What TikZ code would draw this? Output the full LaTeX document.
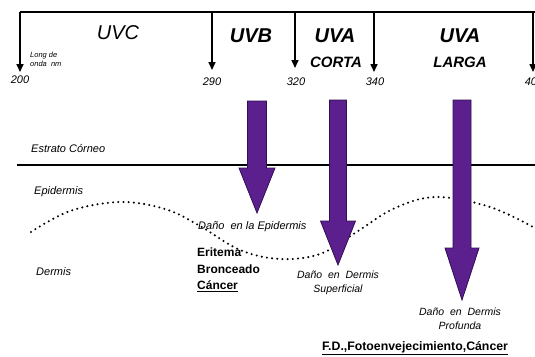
\documentclass[tikz,border=0pt]{standalone}
\usepackage{fontspec}
\setmainfont{Liberation Sans}
\usetikzlibrary{arrows.meta}
\definecolor{uvpurple}{RGB}{92,32,142}
\definecolor{uvedge}{RGB}{48,14,80}
\begin{document}
\begin{tikzpicture}[x=1pt,y=-1pt,
  axisline/.style={line width=1.8pt},
  tickarrow/.style={line width=1.6pt,-{Triangle[width=7pt,length=8pt]}},
  uvlab/.style={font=\fontsize{20}{24}\selectfont\itshape, inner sep=0pt},
  uvbold/.style={font=\fontsize{20}{24}\selectfont\bfseries\itshape, inner sep=0pt},
  uvsub/.style={font=\fontsize{15}{18}\selectfont\bfseries\itshape, inner sep=0pt},
  numlab/.style={font=\fontsize{11}{13}\selectfont\itshape, inner sep=0pt},
  layerlab/.style={font=\fontsize{11}{13}\selectfont\itshape, inner sep=0pt, anchor=west},
  damlab/.style={font=\fontsize{10.5}{14}\selectfont\itshape, inner sep=0pt, align=center},
  effectlab/.style={font=\fontsize{12}{16.5}\selectfont\bfseries, inner sep=0pt},
  skinline/.style={line width=1.6pt},
  dotline/.style={line width=2.3pt, dash pattern=on 0pt off 5.2pt, line cap=round},
  parrow/.style={fill=uvpurple, draw=uvedge, line width=0.8pt, line join=miter}
]
\useasboundingbox (0,0) rectangle (535,356);

% top scale
\coordinate (tR) at (536,12);
\coordinate (t200) at (20,12);   \coordinate (b200) at (20,72);
\coordinate (t290) at (212,12);  \coordinate (b290) at (212,70);
\coordinate (t320) at (295,12);  \coordinate (b320) at (295,68);
\coordinate (t340) at (374,12);  \coordinate (b340) at (374,72);
\coordinate (t400) at (533,12);  \coordinate (b400) at (533,72);
\draw[axisline] (t200) -- (tR);
\draw[tickarrow] (t200) -- (b200);
\draw[tickarrow] (t290) -- (b290);
\draw[tickarrow] (t320) -- (b320);
\draw[tickarrow] (t340) -- (b340);
\draw[tickarrow] (t400) -- (b400);

\node[numlab] (n200) at (20,80) {200};
\node[numlab] (n290) at (212,82) {290};
\node[numlab] (n320) at (296,82) {320};
\node[numlab] (n340) at (375,82) {340};
\node[numlab] (n400) at (534,82) {400};

\node[font=\fontsize{7.5}{9}\selectfont\itshape, inner sep=0pt, anchor=north west, align=left] (lo) at (30,52) {Long de\\onda\ \ nm};

\node[uvlab] (uvc) at (118,33) {UVC};
\node[uvbold] (uvb) at (251,36) {UVB};
\node[uvbold] (uva1) at (335,36) {UVA};
\node[uvsub] (corta) at (336,62) {CORTA};
\node[uvbold] (uva2) at (460,36) {UVA};
\node[uvsub] (larga) at (460,62) {LARGA};

% skin layers
\coordinate (sL) at (17,165);
\coordinate (sR) at (536,165);
\draw[skinline] (sL) -- (sR);
\draw[dotline] plot[smooth, tension=0.6] coordinates {(31,232) (70,211) (120,202) (165,209) (200,226) (240,250) (280,259) (320,254) (355,233) (395,208) (437,197) (490,207) (533,227)};

\node[layerlab] (ec) at (31,149) {Estrato\ Córneo};
\node[layerlab] (ep) at (34,192) {Epidermis};
\node[layerlab] (de) at (36,272) {Dermis};

% purple arrows
\draw[parrow] (247.5,101) -- (266.5,101) -- (266.5,168) -- (275,168) -- (257,213) -- (239,168) -- (247.5,168) -- cycle;
\draw[parrow] (329.5,100) -- (346.5,100) -- (346.5,221) -- (355.5,221) -- (338,265) -- (320.5,221) -- (329.5,221) -- cycle;
\draw[parrow] (453,100) -- (471,100) -- (471,248) -- (479,248) -- (462,300) -- (445,248) -- (453,248) -- cycle;

% labels
\node[damlab, font=\fontsize{11}{14}\selectfont\itshape, anchor=west] (d1) at (198,227) {Daño\ \ en\ la\ Epidermis};
\node[effectlab, anchor=north west, align=left] (e1) at (197,248) {Eritema\\Bronceado\\\underline{Cáncer}};
\node[damlab] (d2) at (338,283) {Daño\ \ en\ \ Dermis\\Superficial};
\node[damlab] (d3) at (460,319) {Daño\ \ en\ \ Dermis\\Profunda};
\node[effectlab, font=\fontsize{12.3}{16.5}\selectfont\bfseries] (e2) at (415,348) {\underline{F.D.,Fotoenvejecimiento,Cáncer}};
\end{tikzpicture}
\end{document}
